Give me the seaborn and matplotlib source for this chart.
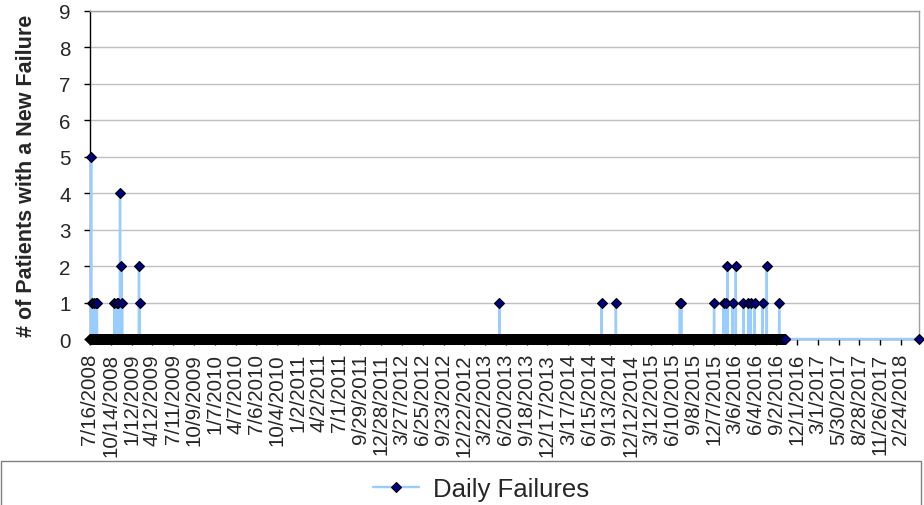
import matplotlib
matplotlib.use("Agg")
import matplotlib.pyplot as plt
import pandas as pd
import seaborn as sns
from matplotlib.lines import Line2D
from matplotlib.patches import Rectangle

# Daily record: one entry per calendar day between these two dates
record_start = "2008-07-16"
record_end = "2016-10-09"
# Closing entry written after the daily record stopped
closing_date = "2018-05-13"
closing_value = 0

# Days on which at least one patient had a new failure, and how many
failure_dates = [
    "2008-07-21", "2008-07-25", "2008-08-02", "2008-08-09", "2008-08-15",
    "2008-10-30", "2008-11-08", "2008-11-16", "2008-11-23", "2008-11-29",
    "2008-12-02", "2009-02-13", "2009-02-16",
    "2013-05-23", "2014-08-08", "2014-10-09",
    "2015-07-13", "2015-07-19", "2015-12-08",
    "2016-01-18", "2016-01-28", "2016-02-04", "2016-02-26", "2016-03-11",
    "2016-04-13", "2016-05-05", "2016-05-15", "2016-06-01", "2016-07-05",
    "2016-07-23", "2016-09-15",
]
failure_counts = [
    5, 1, 1, 1, 1,
    1, 1, 1, 4, 2,
    1, 2, 1,
    1, 1, 1,
    1, 1, 1,
    1, 1, 2, 1, 2,
    1, 1, 1, 1, 1,
    2, 1,
]

# Date axis labels (every 90 days)
tick_labels = [
    "7/16/2008", "10/14/2008", "1/12/2009", "4/12/2009", "7/11/2009",
    "10/9/2009", "1/7/2010", "4/7/2010", "7/6/2010", "10/4/2010",
    "1/2/2011", "4/2/2011", "7/1/2011", "9/29/2011", "12/28/2011",
    "3/27/2012", "6/25/2012", "9/23/2012", "12/22/2012", "3/22/2013",
    "6/20/2013", "9/18/2013", "12/17/2013", "3/17/2014", "6/15/2014",
    "9/13/2014", "12/12/2014", "3/12/2015", "6/10/2015", "9/8/2015",
    "12/7/2015", "3/6/2016", "6/4/2016", "9/2/2016", "12/1/2016",
    "3/1/2017", "5/30/2017", "8/28/2017", "11/26/2017", "2/24/2018",
]
y_ticks = list(range(0, 10))

# Assemble the daily series
days = pd.date_range(record_start, record_end, freq="D")
daily = pd.Series(0, index=days, dtype=int)
daily.loc[pd.to_datetime(failure_dates)] = failure_counts
daily.loc[pd.Timestamp(closing_date)] = closing_value
df = daily.rename_axis("date").reset_index(name="failures")

sns.set_style("ticks")
plt.rcParams["font.family"] = ["Liberation Sans", "DejaVu Sans"]

LINE_COLOR = "#99CCFF"
MARKER_FILL = "#000080"
TICK_SIZE = 14.8

fig = plt.figure(figsize=(9.24, 5.06), dpi=100)
ax = fig.add_axes([90 / 924, 166 / 506, 829 / 924, 328 / 506])

marker_style = dict(marker="D", markersize=4.8, markerfacecolor=MARKER_FILL,
                    markeredgecolor="black", markeredgewidth=0.8)

sns.lineplot(data=df, x="date", y="failures", ax=ax, estimator=None,
             color=LINE_COLOR, linewidth=1.7, zorder=3, clip_on=False,
             legend=False, **marker_style)

ax.set_xlim(pd.Timestamp(record_start), pd.Timestamp(closing_date))
ax.set_ylim(0, 9)
ax.set_yticks(y_ticks)
ax.set_yticklabels([str(v) for v in y_ticks], fontsize=TICK_SIZE)
ax.set_xticks(pd.to_datetime(tick_labels, format="%m/%d/%Y"))
ax.set_xticklabels(tick_labels, rotation=90, fontsize=TICK_SIZE)
ax.set_xlabel("")

ax.yaxis.grid(True, color="#C0C0C0", linewidth=1.0)
ax.set_axisbelow(True)

for side in ("left", "bottom"):
    ax.spines[side].set_color("black")
    ax.spines[side].set_linewidth(1.0)
for side in ("top", "right"):
    ax.spines[side].set_visible(True)
    ax.spines[side].set_color("#A0A0A0")
    ax.spines[side].set_linewidth(1.0)

ax.tick_params(axis="y", direction="out", length=4, width=1, color="black", pad=10)
ax.tick_params(axis="x", direction="out", length=4, width=1, color="black", pad=6)

ax.set_ylabel("# of Patients with a New Failure", fontsize=15.5, fontweight="bold")
ax.yaxis.label.set_va("center")
ax.yaxis.set_label_coords(-63 / 829, 0.5)

# Legend strip across the bottom
fig.patches.append(Rectangle((1 / 924, -0.05), 920 / 924, 0.05 + 44 / 506,
                             transform=fig.transFigure, fill=False,
                             edgecolor="#808080", linewidth=1.0))
handle = Line2D([], [], color=LINE_COLOR, linewidth=1.7, **marker_style)
fig.legend(handles=[handle], labels=["Daily Failures"], loc="center",
           bbox_to_anchor=(481 / 924, 16 / 506), frameon=False, fontsize=18.5,
           handlelength=1.8, handletextpad=0.55)

fig.savefig("out.png", dpi=100)
